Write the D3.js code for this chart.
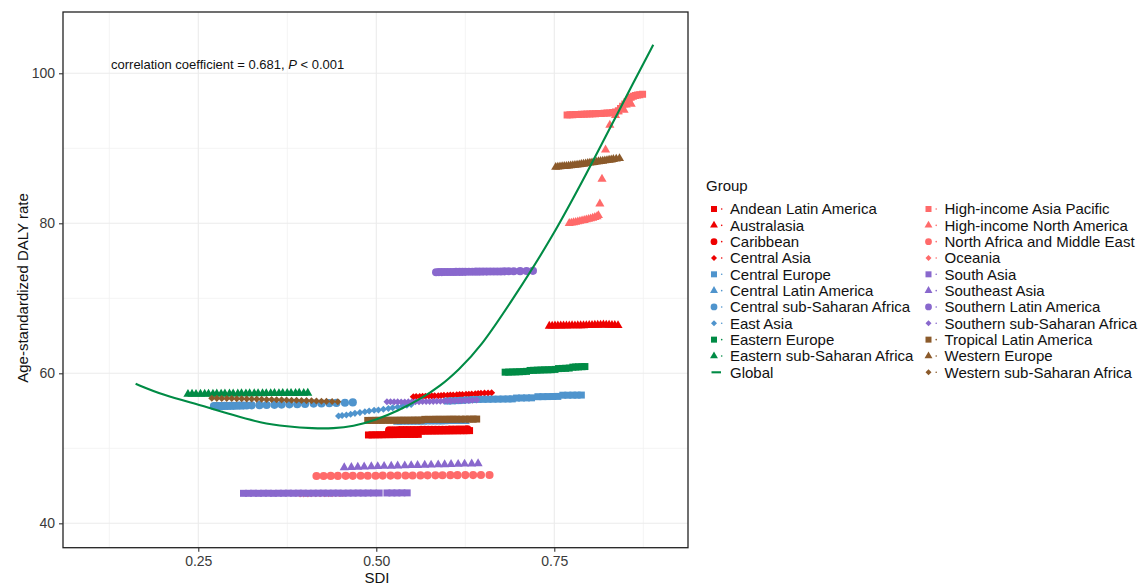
<!DOCTYPE html>
<html><head><meta charset="utf-8">
<script src="https://cdn.jsdelivr.net/npm/d3@7"></script>
<style>
body{margin:0;background:#fff}
svg{display:block}
text{font-family:"Liberation Sans",Arial,Helvetica,sans-serif}
</style>
</head><body>
<svg id="chart" width="1147" height="585"></svg>
<script>
// ---------------- data ----------------
const groupNames = ["Andean Latin America","Australasia","Caribbean","Central Asia","Central Europe","Central Latin America","Central sub-Saharan Africa","East Asia","Eastern Europe","Eastern sub-Saharan Africa","Global","High-income Asia Pacific","High-income North America","North Africa and Middle East","Oceania","South Asia","Southeast Asia","Southern Latin America","Southern sub-Saharan Africa","Tropical Latin America","Western Europe","Western sub-Saharan Africa"];
const groupColors = ["#EE0000","#EE0000","#EE0000","#EE0000","#4F94CD","#4F94CD","#4F94CD","#4F94CD","#008B45","#008B45","#008B45","#FF6A6A","#FF6A6A","#FF6A6A","#FF6A6A","#8968CD","#8968CD","#8968CD","#8968CD","#8B5A2B","#8B5A2B","#8B5A2B"];
const groupShapes = ["square","triangle","circle","diamond","square","triangle","circle","diamond","square","triangle","line","square","triangle","circle","diamond","square","triangle","circle","diamond","square","triangle","diamond"];

const xTicks = [0.25, 0.50, 0.75];
const xMinor = [0.125, 0.375, 0.625, 0.875];
const yTicks = [40, 60, 80, 100];
const yMinor = [50, 70, 90];

// [SDI, age-standardized DALY rate]
const andeanLatinAmerica = [[0.489,51.78],[0.494,51.79],[0.499,51.80],[0.504,51.80],[0.509,51.81],[0.514,51.82],[0.519,51.82],[0.524,51.83],[0.529,51.83],[0.534,51.84],[0.539,51.84],[0.544,51.85],[0.549,51.85],[0.554,51.86],[0.559,51.86],[0.564,52.28],[0.569,52.30],[0.574,52.30],[0.579,52.31],[0.584,52.31],[0.589,52.32],[0.594,52.32],[0.599,52.33],[0.604,52.33],[0.609,52.34],[0.614,52.34],[0.619,52.35],[0.623,52.35],[0.627,52.36],[0.631,52.36]];
const australasia = [[0.743,66.30],[0.747,66.32],[0.751,66.33],[0.755,66.33],[0.759,66.34],[0.763,66.35],[0.767,66.34],[0.771,66.35],[0.775,66.36],[0.779,66.35],[0.783,66.36],[0.787,66.37],[0.791,66.36],[0.795,66.38],[0.799,66.40],[0.803,66.42],[0.807,66.43],[0.811,66.44],[0.815,66.45],[0.819,66.46],[0.823,66.45],[0.827,66.44],[0.831,66.42],[0.835,66.40],[0.8395,66.38]];
const caribbean = [[0.518,52.40],[0.523,52.41],[0.528,52.41],[0.533,52.42],[0.538,52.42],[0.543,52.43],[0.548,52.43],[0.553,52.44],[0.558,52.44],[0.563,52.45],[0.568,52.45],[0.573,52.46],[0.578,52.46],[0.583,52.47],[0.588,52.47],[0.593,52.48],[0.598,52.48],[0.603,52.49],[0.608,52.49],[0.613,52.50],[0.617,52.50],[0.621,52.51],[0.625,52.51],[0.628,52.52]];
const centralAsia = [[0.552,56.88],[0.556,56.90],[0.561,56.92],[0.565,56.93],[0.569,56.95],[0.574,56.97],[0.578,56.99],[0.582,57.00],[0.587,57.02],[0.591,57.04],[0.595,57.06],[0.600,57.08],[0.604,57.10],[0.608,57.12],[0.613,57.14],[0.617,57.16],[0.621,57.18],[0.626,57.20],[0.630,57.22],[0.634,57.25],[0.639,57.27],[0.643,57.30],[0.647,57.33],[0.652,57.36],[0.657,57.38],[0.662,57.41]];
const centralEurope = [[0.600,56.30],[0.607,56.33],[0.614,56.36],[0.621,56.40],[0.628,56.45],[0.636,56.50],[0.643,56.52],[0.650,56.53],[0.657,56.54],[0.664,56.55],[0.671,56.56],[0.678,56.57],[0.685,56.58],[0.691,56.59],[0.697,56.70],[0.704,56.71],[0.711,56.72],[0.718,56.73],[0.727,56.88],[0.734,56.89],[0.741,56.90],[0.748,56.91],[0.755,56.92],[0.762,57.08],[0.769,57.08],[0.776,57.09],[0.782,57.09],[0.788,57.10]];
const centralLatinAmerica = [[0.530,53.50],[0.535,53.51],[0.540,53.52],[0.545,53.52],[0.550,53.53],[0.555,53.53],[0.560,53.54],[0.565,53.54],[0.570,53.55],[0.575,53.55],[0.580,53.56],[0.585,53.56],[0.590,53.57],[0.595,53.57],[0.600,53.58],[0.605,53.58],[0.610,53.59],[0.615,53.59],[0.620,53.60],[0.625,53.60]];
const centralSubSaharanAfrica = [[0.272,55.62],[0.275,55.63],[0.278,55.62],[0.281,55.64],[0.284,55.63],[0.287,55.65],[0.291,55.64],[0.295,55.66],[0.299,55.66],[0.303,55.68],[0.308,55.69],[0.313,55.70],[0.318,55.71],[0.325,55.73],[0.336,55.75],[0.346,55.78],[0.357,55.80],[0.367,55.83],[0.378,55.86],[0.389,55.89],[0.400,55.92],[0.412,55.96],[0.423,55.99],[0.434,56.02],[0.444,56.05],[0.456,56.08],[0.467,56.12]];
const eastAsia = [[0.447,54.30],[0.452,54.38],[0.458,54.45],[0.464,54.55],[0.470,54.66],[0.477,54.76],[0.484,54.88],[0.490,54.97],[0.497,55.07],[0.503,55.12],[0.510,55.22],[0.517,55.32],[0.523,55.40],[0.530,55.52],[0.537,55.65],[0.543,55.75],[0.549,55.85]];
const easternEurope = [[0.681,60.15],[0.686,60.16],[0.691,60.18],[0.696,60.19],[0.701,60.21],[0.706,60.23],[0.711,60.26],[0.716,60.38],[0.721,60.40],[0.726,60.42],[0.731,60.44],[0.736,60.46],[0.741,60.47],[0.746,60.48],[0.751,60.52],[0.756,60.63],[0.761,60.65],[0.766,60.67],[0.771,60.70],[0.776,60.82],[0.780,60.84],[0.784,60.86],[0.789,60.88],[0.793,60.90]];
const easternSubSaharanAfrica = [[0.2355,57.22],[0.2412,57.23],[0.2468,57.22],[0.2531,57.24],[0.2590,57.23],[0.2644,57.25],[0.2706,57.24],[0.2760,57.26],[0.2821,57.25],[0.2874,57.27],[0.2938,57.26],[0.2990,57.28],[0.3055,57.27],[0.3107,57.29],[0.3169,57.28],[0.3221,57.30],[0.3286,57.29],[0.3340,57.31],[0.3402,57.30],[0.3455,57.32],[0.3517,57.31],[0.3570,57.33],[0.3633,57.32],[0.3686,57.34],[0.3749,57.33],[0.3803,57.35],[0.3866,57.34],[0.3918,57.36],[0.3981,57.35],[0.4038,57.37]];
const globalSDI = [0.162,0.200,0.252,0.300,0.337,0.375,0.411,0.440,0.467,0.500,0.530,0.561,0.590,0.615,0.646,0.692,0.746,0.800,0.819,0.863,0.889];
const globalDALY = [58.6,57.1,55.8,54.4,53.4,52.9,52.65,52.65,52.9,53.8,55.0,56.5,58.3,60.4,63.4,69.9,77.9,87.5,91.0,99.1,103.8];
const highIncomeAsiaPacific = [[0.768,94.45],[0.772,94.47],[0.776,94.48],[0.780,94.50],[0.784,94.52],[0.788,94.53],[0.792,94.55],[0.796,94.57],[0.800,94.58],[0.804,94.60],[0.808,94.62],[0.812,94.63],[0.816,94.65],[0.820,94.68],[0.824,94.70],[0.828,94.72],[0.832,94.78],[0.836,94.85],[0.840,95.00],[0.843,95.30],[0.846,95.60],[0.849,95.90],[0.852,96.20],[0.855,96.50],[0.858,96.80],[0.861,96.95],[0.864,97.05],[0.867,97.10],[0.870,97.15],[0.874,97.20]];
const highIncomeNorthAmerica = [[0.771,80.00],[0.774,80.05],[0.777,80.10],[0.780,80.15],[0.783,80.22],[0.786,80.28],[0.789,80.35],[0.792,80.40],[0.795,80.48],[0.798,80.55],[0.801,80.62],[0.804,80.70],[0.807,80.80],[0.810,80.90],[0.812,81.05],[0.814,82.60],[0.817,85.90],[0.822,89.80],[0.828,93.10],[0.836,94.40],[0.840,94.90],[0.844,95.40],[0.848,95.10],[0.851,95.80],[0.855,96.30],[0.858,95.90]];
const northAfricaMiddleEast = [[0.416,46.31],[0.426,46.31],[0.436,46.32],[0.446,46.32],[0.457,46.33],[0.467,46.33],[0.478,46.34],[0.488,46.34],[0.499,46.35],[0.509,46.36],[0.520,46.36],[0.530,46.37],[0.541,46.38],[0.551,46.38],[0.562,46.39],[0.572,46.40],[0.583,46.40],[0.593,46.41],[0.604,46.42],[0.614,46.42],[0.625,46.43],[0.636,46.43],[0.647,46.44],[0.659,46.44]];
const oceania = [[0.393,43.92],[0.398,43.93],[0.404,43.93],[0.409,43.94],[0.415,43.94],[0.421,43.95],[0.427,43.95],[0.433,43.96],[0.438,43.96],[0.443,43.97],[0.448,43.97],[0.453,43.98]];
const southAsia = [[0.3135,44.00],[0.3205,44.00],[0.3275,44.01],[0.3345,44.00],[0.3415,44.01],[0.3485,44.01],[0.3555,44.00],[0.3625,44.01],[0.3695,44.01],[0.3765,44.02],[0.3835,44.01],[0.3905,44.02],[0.3975,44.02],[0.4045,44.01],[0.4115,44.02],[0.4185,44.02],[0.4255,44.03],[0.4325,44.02],[0.4395,44.03],[0.4465,44.03],[0.4535,44.02],[0.4605,44.03],[0.4675,44.03],[0.4745,44.04],[0.4815,44.03],[0.4885,44.04],[0.4960,44.04],[0.5040,44.04],[0.5150,44.05],[0.5220,44.05],[0.5290,44.05],[0.5360,44.06],[0.5434,44.06]];
const southeastAsia = [[0.455,47.44],[0.465,47.47],[0.474,47.50],[0.483,47.53],[0.493,47.56],[0.502,47.58],[0.511,47.61],[0.521,47.63],[0.530,47.66],[0.540,47.68],[0.549,47.71],[0.558,47.73],[0.568,47.76],[0.577,47.78],[0.587,47.81],[0.596,47.83],[0.605,47.86],[0.615,47.88],[0.624,47.91],[0.634,47.94],[0.643,47.97]];
const southernLatinAmerica = [[0.584,73.48],[0.588,73.49],[0.592,73.49],[0.596,73.50],[0.600,73.50],[0.604,73.51],[0.608,73.51],[0.612,73.52],[0.617,73.52],[0.621,73.53],[0.625,73.53],[0.630,73.54],[0.635,73.54],[0.640,73.55],[0.645,73.55],[0.650,73.56],[0.655,73.56],[0.660,73.57],[0.665,73.57],[0.670,73.58],[0.675,73.58],[0.680,73.59],[0.686,73.60],[0.693,73.61],[0.702,73.62],[0.711,73.64],[0.720,73.66]];
const southernSubSaharanAfrica = [[0.515,56.21],[0.520,56.20],[0.525,56.19],[0.530,56.19],[0.535,56.18],[0.540,56.18],[0.545,56.19],[0.550,56.20],[0.555,56.21],[0.560,56.22],[0.565,56.23],[0.570,56.24],[0.575,56.25],[0.580,56.26],[0.585,56.27],[0.590,56.28],[0.595,56.30],[0.600,56.31],[0.605,56.32],[0.610,56.33],[0.615,56.35],[0.620,56.36],[0.625,56.38],[0.630,56.39],[0.635,56.41],[0.641,56.43]];
const tropicalLatinAmerica = [[0.488,53.72],[0.493,53.72],[0.498,53.73],[0.503,53.73],[0.508,53.73],[0.513,53.74],[0.518,53.74],[0.523,53.74],[0.528,53.74],[0.533,53.75],[0.538,53.75],[0.543,53.75],[0.548,53.75],[0.553,53.76],[0.558,53.76],[0.563,53.76],[0.568,53.86],[0.573,53.86],[0.578,53.86],[0.583,53.87],[0.588,53.87],[0.593,53.87],[0.598,53.87],[0.603,53.88],[0.608,53.88],[0.613,53.88],[0.619,53.88],[0.625,53.89],[0.631,53.89],[0.636,53.89],[0.641,53.90]];
const westernEurope = [[0.752,87.48],[0.755,87.52],[0.758,87.55],[0.761,87.58],[0.764,87.60],[0.767,87.62],[0.770,87.65],[0.773,87.68],[0.776,87.72],[0.779,87.75],[0.782,87.78],[0.785,87.82],[0.788,87.86],[0.791,87.90],[0.794,87.95],[0.797,88.00],[0.800,88.04],[0.803,88.08],[0.806,88.12],[0.809,88.18],[0.812,88.22],[0.815,88.26],[0.818,88.30],[0.821,88.34],[0.824,88.38],[0.827,88.42],[0.830,88.47],[0.833,88.52],[0.837,88.58],[0.8416,88.65]];
const westernSubSaharanAfrica = [[0.269,56.67],[0.276,56.66],[0.283,56.65],[0.290,56.64],[0.297,56.63],[0.304,56.62],[0.311,56.60],[0.318,56.59],[0.325,56.57],[0.332,56.56],[0.339,56.54],[0.346,56.52],[0.353,56.50],[0.360,56.48],[0.367,56.46],[0.374,56.44],[0.381,56.42],[0.388,56.40],[0.395,56.38],[0.402,56.36],[0.409,56.33],[0.416,56.31],[0.423,56.28],[0.430,56.26],[0.438,56.23],[0.446,56.21]];

const groupData = [andeanLatinAmerica, australasia, caribbean, centralAsia, centralEurope, centralLatinAmerica, centralSubSaharanAfrica, eastAsia, easternEurope, easternSubSaharanAfrica, null, highIncomeAsiaPacific, highIncomeNorthAmerica, northAfricaMiddleEast, oceania, southAsia, southeastAsia, southernLatinAmerica, southernSubSaharanAfrica, tropicalLatinAmerica, westernEurope, westernSubSaharanAfrica];

// ---------------- layout ----------------
const P = {left: 63, right: 688, top: 12, bottom: 547.7};
const svg = d3.select("#chart");
const x = d3.scaleLinear().domain([0.06, 0.9378]).range([P.left, P.right]);
const y = d3.scaleLinear().domain([36.75, 108.17]).range([P.bottom, P.top]);

const FONT = '"Liberation Sans",Arial,Helvetica,sans-serif';

// grid
const grid = svg.append("g");
grid.selectAll(".vmin").data(xMinor).join("line")
  .attr("x1", d => x(d)).attr("x2", d => x(d)).attr("y1", P.top).attr("y2", P.bottom)
  .attr("stroke", "#F1F1F1").attr("stroke-width", 0.8);
grid.selectAll(".hmin").data(yMinor).join("line")
  .attr("x1", P.left).attr("x2", P.right).attr("y1", d => y(d)).attr("y2", d => y(d))
  .attr("stroke", "#F1F1F1").attr("stroke-width", 0.8);
grid.selectAll(".vmaj").data(xTicks).join("line")
  .attr("x1", d => x(d)).attr("x2", d => x(d)).attr("y1", P.top).attr("y2", P.bottom)
  .attr("stroke", "#EBEBEB").attr("stroke-width", 1.1);
grid.selectAll(".hmaj").data(yTicks).join("line")
  .attr("x1", P.left).attr("x2", P.right).attr("y1", d => y(d)).attr("y2", d => y(d))
  .attr("stroke", "#EBEBEB").attr("stroke-width", 1.1);

// symbols
function symPath(shape, big) {
  if (shape === "square") return d3.symbol(d3.symbolSquare, big ? 49 : 36)();
  if (shape === "circle") return d3.symbol(d3.symbolCircle, big ? 52 : 36)();
  if (shape === "triangle") return d3.symbol(d3.symbolTriangle, big ? 36 : 27)();
  if (shape === "diamond") return d3.symbol(d3.symbolSquare, big ? 25 : 18)();
  return null;
}

svg.append("defs").append("clipPath").attr("id", "clip")
  .append("rect").attr("x", P.left).attr("y", P.top).attr("width", P.right - P.left).attr("height", P.bottom - P.top);

const plot = svg.append("g").attr("clip-path", "url(#clip)");
groupNames.forEach((name, i) => {
  const shape = groupShapes[i];
  if (shape === "line") return;
  const pathD = symPath(shape, true);
  const rot = shape === "diamond" ? " rotate(45)" : "";
  plot.append("g").selectAll("path").data(groupData[i]).join("path")
    .attr("d", pathD)
    .attr("transform", d => `translate(${x(d[0])},${y(d[1])})${rot}`)
    .attr("fill", groupColors[i]);
});

// global curve
const gi = groupNames.indexOf("Global");
const globalPts = globalSDI.map((s, k) => [s, globalDALY[k]]);
plot.append("path").datum(globalPts)
  .attr("d", d3.line().x(d => x(d[0])).y(d => y(d[1])).curve(d3.curveBasis))
  .attr("fill", "none").attr("stroke", groupColors[gi]).attr("stroke-width", 2.1);

// panel border
svg.append("rect").attr("x", P.left).attr("y", P.top).attr("width", P.right - P.left).attr("height", P.bottom - P.top)
  .attr("fill", "none").attr("stroke", "#222").attr("stroke-width", 1.3);

// axes
const xAxis = svg.append("g").attr("transform", `translate(0,${P.bottom})`)
  .call(d3.axisBottom(x).tickValues(xTicks).tickFormat(d3.format(".2f")).tickSize(4).tickPadding(4));
const yAxis = svg.append("g").attr("transform", `translate(${P.left},0)`)
  .call(d3.axisLeft(y).tickValues(yTicks).tickFormat(d3.format("d")).tickSize(4).tickPadding(4));
[xAxis, yAxis].forEach(a => {
  a.select(".domain").remove();
  a.selectAll(".tick line").attr("stroke", "#333").attr("stroke-width", 1.1);
  a.selectAll(".tick text").attr("fill", "#3a3a3a").style("font-size", "14px").style("font-family", FONT);
});

// axis titles
svg.append("text").attr("x", 377).attr("y", 583).attr("text-anchor", "middle")
  .style("font-size", "15px").attr("fill", "#111").text("SDI");
svg.append("text").attr("transform", "translate(28,288) rotate(-90)").attr("text-anchor", "middle")
  .style("font-size", "15px").attr("fill", "#111").text("Age-standardized DALY rate");

// annotation
const ann = svg.append("text").attr("x", 111).attr("y", 68.5).style("font-size", "13px").attr("fill", "#111");
ann.append("tspan").text("correlation coefficient = 0.681, ");
ann.append("tspan").style("font-style", "italic").text("P");
ann.append("tspan").text(" < 0.001");

// legend
const lg = svg.append("g");
lg.append("text").attr("x", 706).attr("y", 190.5).style("font-size", "15px").attr("fill", "#111").text("Group");
const colX = [714, 928.5];
groupNames.forEach((name, i) => {
  const col = i < 11 ? 0 : 1;
  const row = i < 11 ? i : i - 11;
  const cy = 209 + row * 16.33;
  const kx = colX[col];
  const shape = groupShapes[i];
  if (shape === "line") {
    lg.append("line").attr("x1", kx - 2.5).attr("x2", kx + 7).attr("y1", cy).attr("y2", cy)
      .attr("stroke", groupColors[i]).attr("stroke-width", 2.1);
  } else {
    const rot = shape === "diamond" ? " rotate(45)" : "";
    lg.append("path").attr("d", symPath(shape, false))
      .attr("transform", `translate(${kx},${cy})${rot}`).attr("fill", groupColors[i]);
    lg.append("circle").attr("cx", kx + 7.7).attr("cy", cy).attr("r", 0.8).attr("fill", groupColors[i]);
  }
  lg.append("text").attr("x", kx + 16).attr("y", cy + 5.3).style("font-size", "15px").attr("fill", "#111").text(name);
});
</script>
</body></html>
